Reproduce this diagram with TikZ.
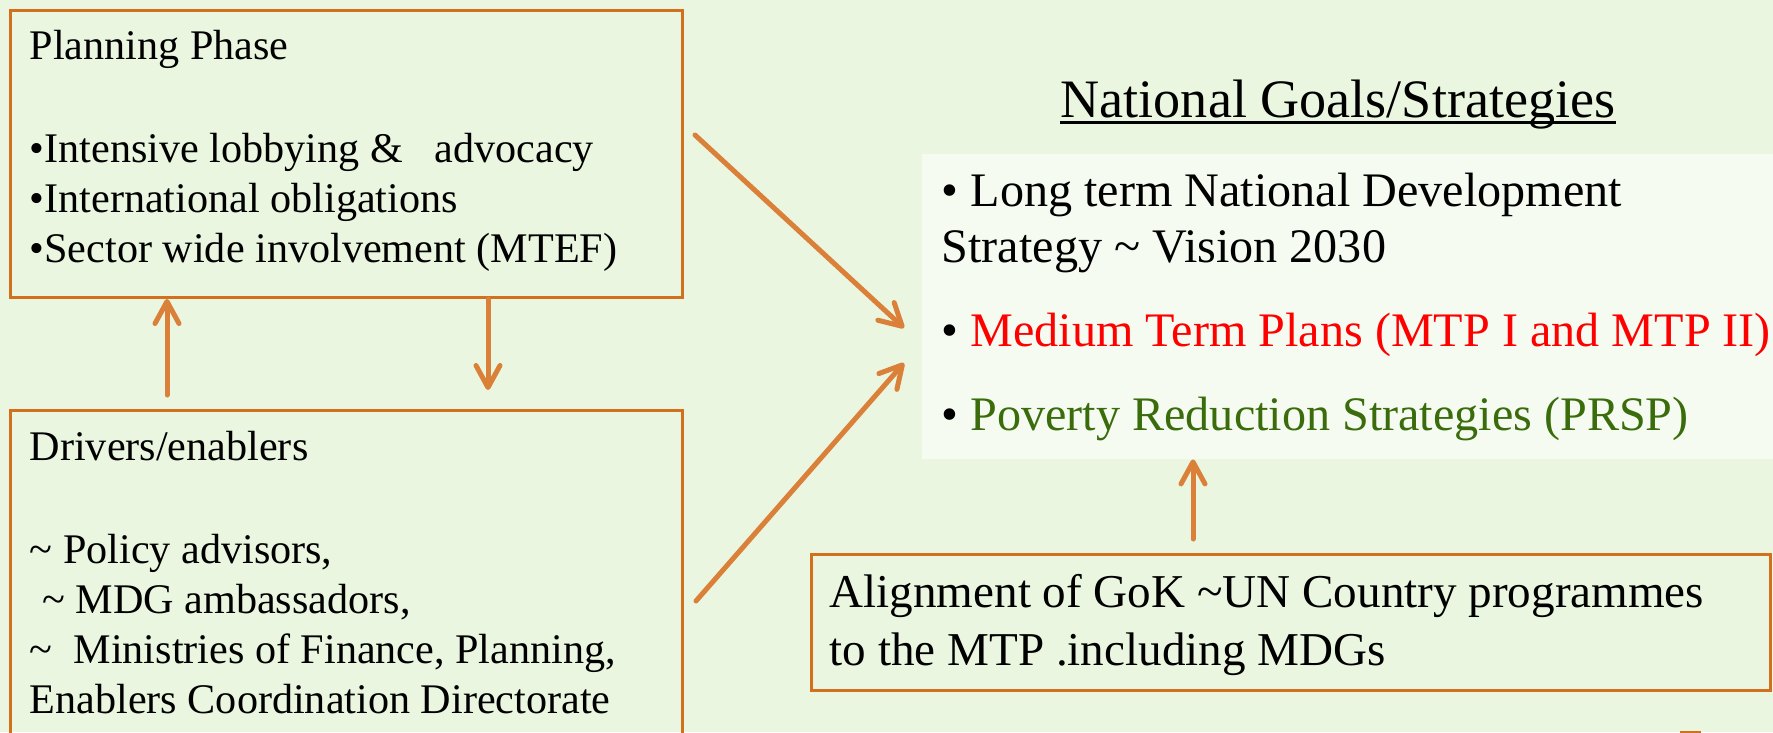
\documentclass[tikz,border=0pt]{standalone}
\usepackage{fontspec}
\setmainfont{Liberation Serif}
\usetikzlibrary{arrows.meta}

\definecolor{bgGreen}{RGB}{234,246,224}
\definecolor{paleBox}{RGB}{245,251,241}
\definecolor{boxOrange}{RGB}{210,112,30}
\definecolor{arrowOrange}{RGB}{218,128,56}
\definecolor{prspGreen}{RGB}{58,108,12}

\begin{document}
\begin{tikzpicture}[x = 0.1mm, y = -0.1mm,
    frameBox/.style = {rectangle, draw = boxOrange, line width = 0.3mm, anchor = north west, inner sep = 0pt},
    flow/.style = {draw = arrowOrange, line width = 0.5mm, line cap = round,
        -{Straight Barb[length = 2.2mm, width = 2.4mm, line cap = round, line join = round]}},
    leftText/.style = {anchor = base west, align = left, inner sep = 0pt, font = \fontsize{12}{14.2}\selectfont},
    goalText/.style = {anchor = base west, align = left, inner sep = 0pt, font = \fontsize{13.7}{15.9}\selectfont},
    alignText/.style = {anchor = base west, align = left, inner sep = 0pt, font = \fontsize{13.4}{16.5}\selectfont}]
        \clip (0, 0) rectangle (1773, 732);
        \fill[bgGreen] (0, 0) rectangle (1773, 732);

        % left column (text nodes sit on the baseline of their last line)
        \node[frameBox, minimum width = 67.2mm, minimum height = 28.7mm] (planNode) at (9, 9) {};
        \node[frameBox, minimum width = 67.2mm, minimum height = 37.1mm] (driverNode) at (9, 409) {};
        \node[leftText] (planText) at (29, 262) {Planning Phase\\[5.3mm]
            •Intensive lobbying \&\ \ \ advocacy\\
            •International obligations\\
            •Sector wide involvement (MTEF)};
        \node[leftText] (driverText) at (29, 713) {Drivers/enablers\\[5.3mm]
            \textasciitilde{} Policy advisors,\\
            \hspace*{0.3em}\textasciitilde{} MDG ambassadors,\\
            \textasciitilde\ \ Ministries of Finance, Planning,\\
            Enablers Coordination Directorate};

        % right column
        \node[anchor = base west, inner sep = 0pt, font = \fontsize{15.4}{18}\selectfont] (goalTitle) at (1060, 117) {National Goals/Strategies};
        \draw[line width = 0.25mm] ([yshift = -1.5pt]goalTitle.base west) -- ([yshift = -1.5pt]goalTitle.base east);
        \node[fill = paleBox, anchor = north west, inner sep = 0pt, minimum width = 86mm, minimum height = 30.5mm] (goalNode) at (921, 153) {};
        \node[goalText] (goalList) at (941, 430) {• Long term National Development\\
            Strategy \textasciitilde{} Vision 2030\\[2.8mm]
            • \textcolor{red}{Medium Term Plans (MTP I and MTP II)}\\[2.8mm]
            • \textcolor{prspGreen}{Poverty Reduction Strategies (PRSP)}};

        \node[frameBox, minimum width = 95.9mm, minimum height = 13.6mm] (alignNode) at (810, 553) {};
        \node[alignText] (alignList) at (829, 665) {Alignment of GoK \textasciitilde UN Country programmes\\
            to the MTP .including MDGs};
        \node[frameBox, minimum width = 1.8mm, minimum height = 5mm] (nextNode) at (1680, 731) {};

        % arrows
        \coordinate (upFoot) at (167, 395);
        \coordinate (downTip) at (488, 390);
        \coordinate (planOut) at (695, 135);
        \coordinate (goalInTop) at (904, 328);
        \coordinate (driverOut) at (696, 601);
        \coordinate (goalInLow) at (904, 363);
        \coordinate (alignFoot) at (1193, 539);

        \draw[flow] (upFoot) -- (upFoot |- planNode.south);
        \draw[flow] (downTip |- planNode.south) -- (downTip);
        \draw[flow] (planOut) -- (goalInTop);
        \draw[flow] (driverOut) -- (goalInLow);
        \draw[flow] (alignFoot) -- (alignFoot |- goalNode.south);
      \end{tikzpicture}
\end{document}
